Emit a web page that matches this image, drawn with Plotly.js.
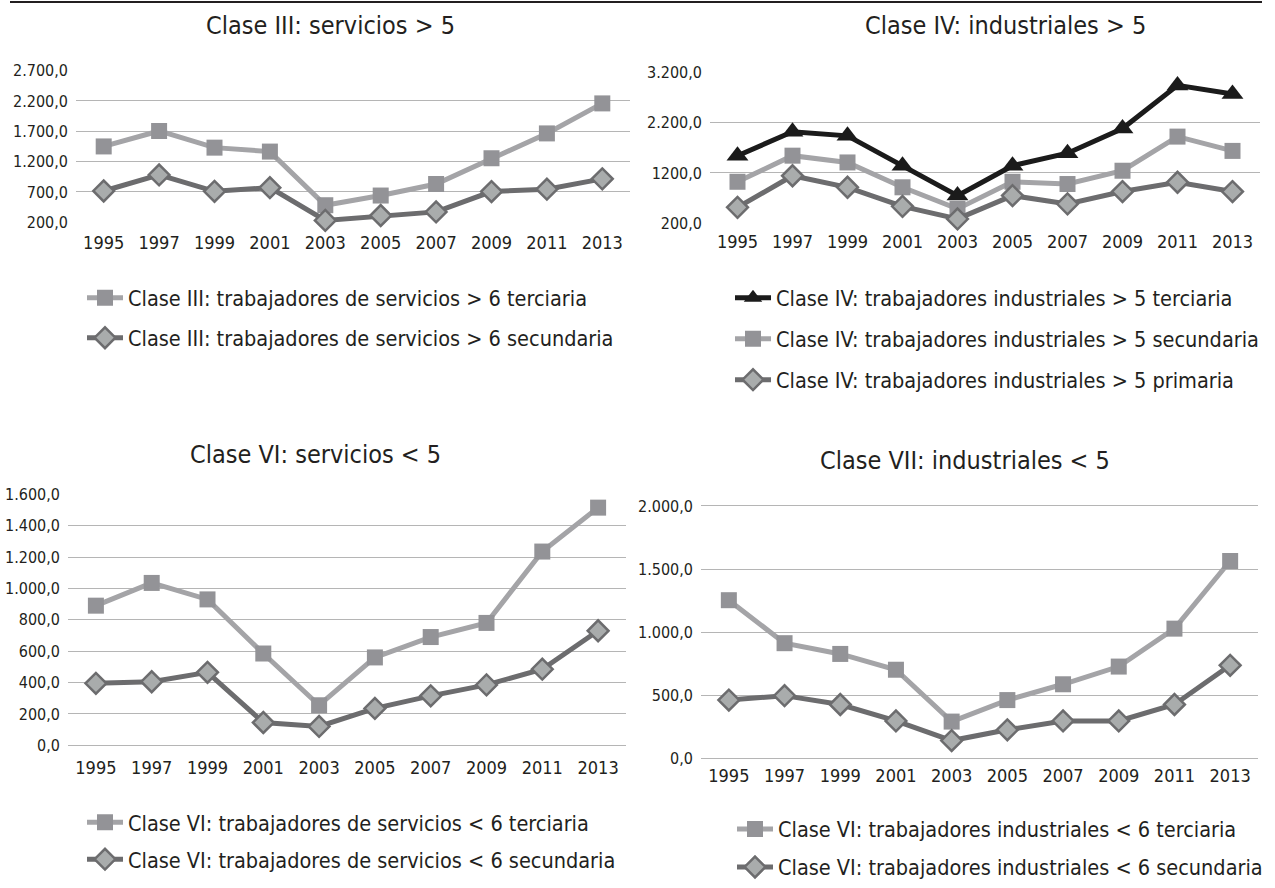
<!DOCTYPE html>
<html>
<head>
<meta charset="utf-8">
<script src="https://cdn.plot.ly/plotly-3.0.1.min.js"></script>
<style>html,body{margin:0;padding:0;background:#fff;}#chart{width:1275px;height:888px;}</style>
</head>
<body>
<div id="chart"></div>
<script>
// ---- Data ----
const years = ['1995','1997','1999','2001','2003','2005','2007','2009','2011','2013'];

const c3Terciaria  = [1450, 1705, 1430, 1365, 480, 640, 830, 1255, 1665, 2160];
const c3Secundaria = [715, 980, 710, 770, 230, 310, 370, 705, 745, 915];

const c4Terciaria  = [1545, 2020, 1940, 1345, 750, 1345, 1595, 2085, 2945, 2775];
const c4Secundaria = [1025, 1545, 1410, 915, 485, 1025, 980, 1245, 1925, 1640];
const c4Primaria   = [515, 1145, 915, 535, 285, 750, 585, 830, 1015, 830];

const c6Terciaria  = [890, 1035, 930, 585, 255, 560, 690, 780, 1235, 1515];
const c6Secundaria = [395, 405, 465, 145, 120, 235, 315, 385, 485, 730];

const c7Terciaria  = [1255, 915, 830, 705, 295, 465, 590, 730, 1030, 1565];
const c7Secundaria = [465, 500, 430, 300, 145, 230, 300, 300, 430, 740];

const c4TickVals = [200, 1200, 2200, 3200];
const c4TickText = ['200,0', '1200,0', '2.200,0', '3.200,0'];

const names = {
  c3t: 'Clase III: trabajadores de servicios > 6 terciaria',
  c3s: 'Clase III: trabajadores de servicios > 6 secundaria',
  c4t: 'Clase IV: trabajadores industriales > 5 terciaria',
  c4s: 'Clase IV: trabajadores industriales > 5 secundaria',
  c4p: 'Clase IV: trabajadores industriales > 5 primaria',
  c6t: 'Clase VI: trabajadores de servicios < 6 terciaria',
  c6s: 'Clase VI: trabajadores de servicios < 6 secundaria',
  c7t: 'Clase VI: trabajadores industriales < 6 terciaria',
  c7s: 'Clase VI: trabajadores industriales < 6 secundaria'
};
const titles = ['Clase III: servicios > 5', 'Clase IV: industriales > 5', 'Clase VI: servicios < 5', 'Clase VII: industriales < 5'];

// ---- Styles ----
const W = 1275, H = 888;
const FONT = '"Liberation Sans Narrow", "DejaVu Sans Condensed", "Roboto Condensed", "Open Sans", sans-serif';
const TXT = '#231f20';
const GRID = '#b5b5b5';
const lightLine = '#a4a4a7', lightMark = '#939397';
const darkLine = '#6c6c6e', diamondFill = '#a9acac';
const blackLine = '#1b1b1b';

function px(x){ return x / W; }
function py(y){ return 1 - y / H; }

function sqTrace(x, y, name, xa, ya, lg){
  return {x: x, y: y, name: name, type: 'scatter', mode: 'lines+markers', xaxis: xa, yaxis: ya,
    legend: lg, legendgroup: name, cliponaxis: false,
    line: {color: lightLine, width: 5},
    marker: {symbol: 'square', size: 16, color: lightMark, line: {width: 0}}};
}
function diTrace(x, y, name, xa, ya, lg){
  return {x: x, y: y, name: name, type: 'scatter', mode: 'lines+markers', xaxis: xa, yaxis: ya,
    legend: lg, legendgroup: name, cliponaxis: false,
    line: {color: darkLine, width: 5},
    marker: {symbol: 'diamond', size: 16, color: diamondFill, line: {width: 2.5, color: darkLine}}};
}
function triTrace(x, y, name, xa, ya, lg){
  return {x: x, y: y, name: name, type: 'scatter', mode: 'lines+markers', xaxis: xa, yaxis: ya,
    legend: lg, legendgroup: name, cliponaxis: false,
    line: {color: blackLine, width: 5},
    marker: {symbol: 'triangle-up', size: 19, color: blackLine, line: {width: 0}}};
}

const data = [
  sqTrace(years, c3Terciaria, names.c3t, 'x', 'y', 'legend'),
  diTrace(years, c3Secundaria, names.c3s, 'x', 'y', 'legend'),
  triTrace(years, c4Terciaria, names.c4t, 'x2', 'y2', 'legend2'),
  sqTrace(years, c4Secundaria, names.c4s, 'x2', 'y2', 'legend2'),
  diTrace(years, c4Primaria, names.c4p, 'x2', 'y2', 'legend2'),
  sqTrace(years, c6Terciaria, names.c6t, 'x3', 'y3', 'legend3'),
  diTrace(years, c6Secundaria, names.c6s, 'x3', 'y3', 'legend3'),
  sqTrace(years, c7Terciaria, names.c7t, 'x4', 'y4', 'legend4'),
  diTrace(years, c7Secundaria, names.c7s, 'x4', 'y4', 'legend4')
];

function xax(left, right, anchor, standoff){
  return {domain: [px(left), px(right)], anchor: anchor, type: 'category',
    range: [-0.5, 9.5], showgrid: false, zeroline: false, showline: false, ticks: '',
    tickfont: {family: FONT, size: 18, color: TXT}, ticklabelstandoff: standoff, fixedrange: true};
}
function yax(top, bottom, anchor, lo, hi, dtick, extra){
  const p = (hi - lo) * 0.004;
  const a = {domain: [py(bottom), py(top)], anchor: anchor, range: [lo - p, hi + p], dtick: dtick, tick0: lo,
    showgrid: true, gridcolor: GRID, gridwidth: 1, zeroline: false, showline: false, ticks: '',
    tickformat: ',.1f', tickfont: {family: FONT, size: 16, color: TXT}, ticklabelstandoff: 7, fixedrange: true};
  return Object.assign(a, extra || {});
}

function legendAt(x, y, gap){
  return {x: px(x), y: py(y), xanchor: 'left', yanchor: 'top', orientation: 'v',
    bgcolor: 'rgba(0,0,0,0)', borderwidth: 0, tracegroupgap: gap, itemwidth: 36,
    font: {family: FONT, size: 21.5, color: TXT}};
}

function titleAnn(text, x, y){
  return {text: text, x: px(x), y: py(y), xref: 'paper', yref: 'paper', xanchor: 'center', yanchor: 'middle',
    showarrow: false, font: {family: FONT, size: 25, color: TXT}};
}

const layout = {
  width: W, height: H, margin: {l: 0, r: 0, t: 0, b: 0},
  paper_bgcolor: '#fff', plot_bgcolor: 'rgba(0,0,0,0)',
  separators: ',.',
  showlegend: true,
  xaxis:  xax(76, 630, 'y', 7),
  yaxis:  yax(72, 229, 'x', 200, 2700, 500),
  xaxis2: xax(710, 1260, 'y2', 5),
  yaxis2: yax(74, 230, 'x2', 200, 3200, 1000, {tickmode: 'array', tickvals: c4TickVals, ticktext: c4TickText}),
  xaxis3: xax(68, 626, 'y3', 9),
  yaxis3: yax(507, 767, 'x3', 0, 1600, 200),
  xaxis4: xax(701, 1258, 'y4', 3),
  yaxis4: yax(519, 781, 'x4', 0, 2000, 500),
  legend:  legendAt(82, 285, 9),
  legend2: legendAt(730, 285, 10),
  legend3: legendAt(82, 824, 6),
  legend4: legendAt(732, 831, 7),
  annotations: [
    titleAnn(titles[0], 330, 26),
    titleAnn(titles[1], 1005, 26),
    titleAnn(titles[2], 315, 467),
    titleAnn(titles[3], 965, 473)
  ],
  shapes: [
    {type: 'line', xref: 'paper', yref: 'paper', x0: px(10), x1: px(1262), y0: py(2), y1: py(2),
     line: {color: '#231f20', width: 2}}
  ]
};

Plotly.newPlot('chart', data, layout, {displayModeBar: false, staticPlot: true});
</script>
</body>
</html>
